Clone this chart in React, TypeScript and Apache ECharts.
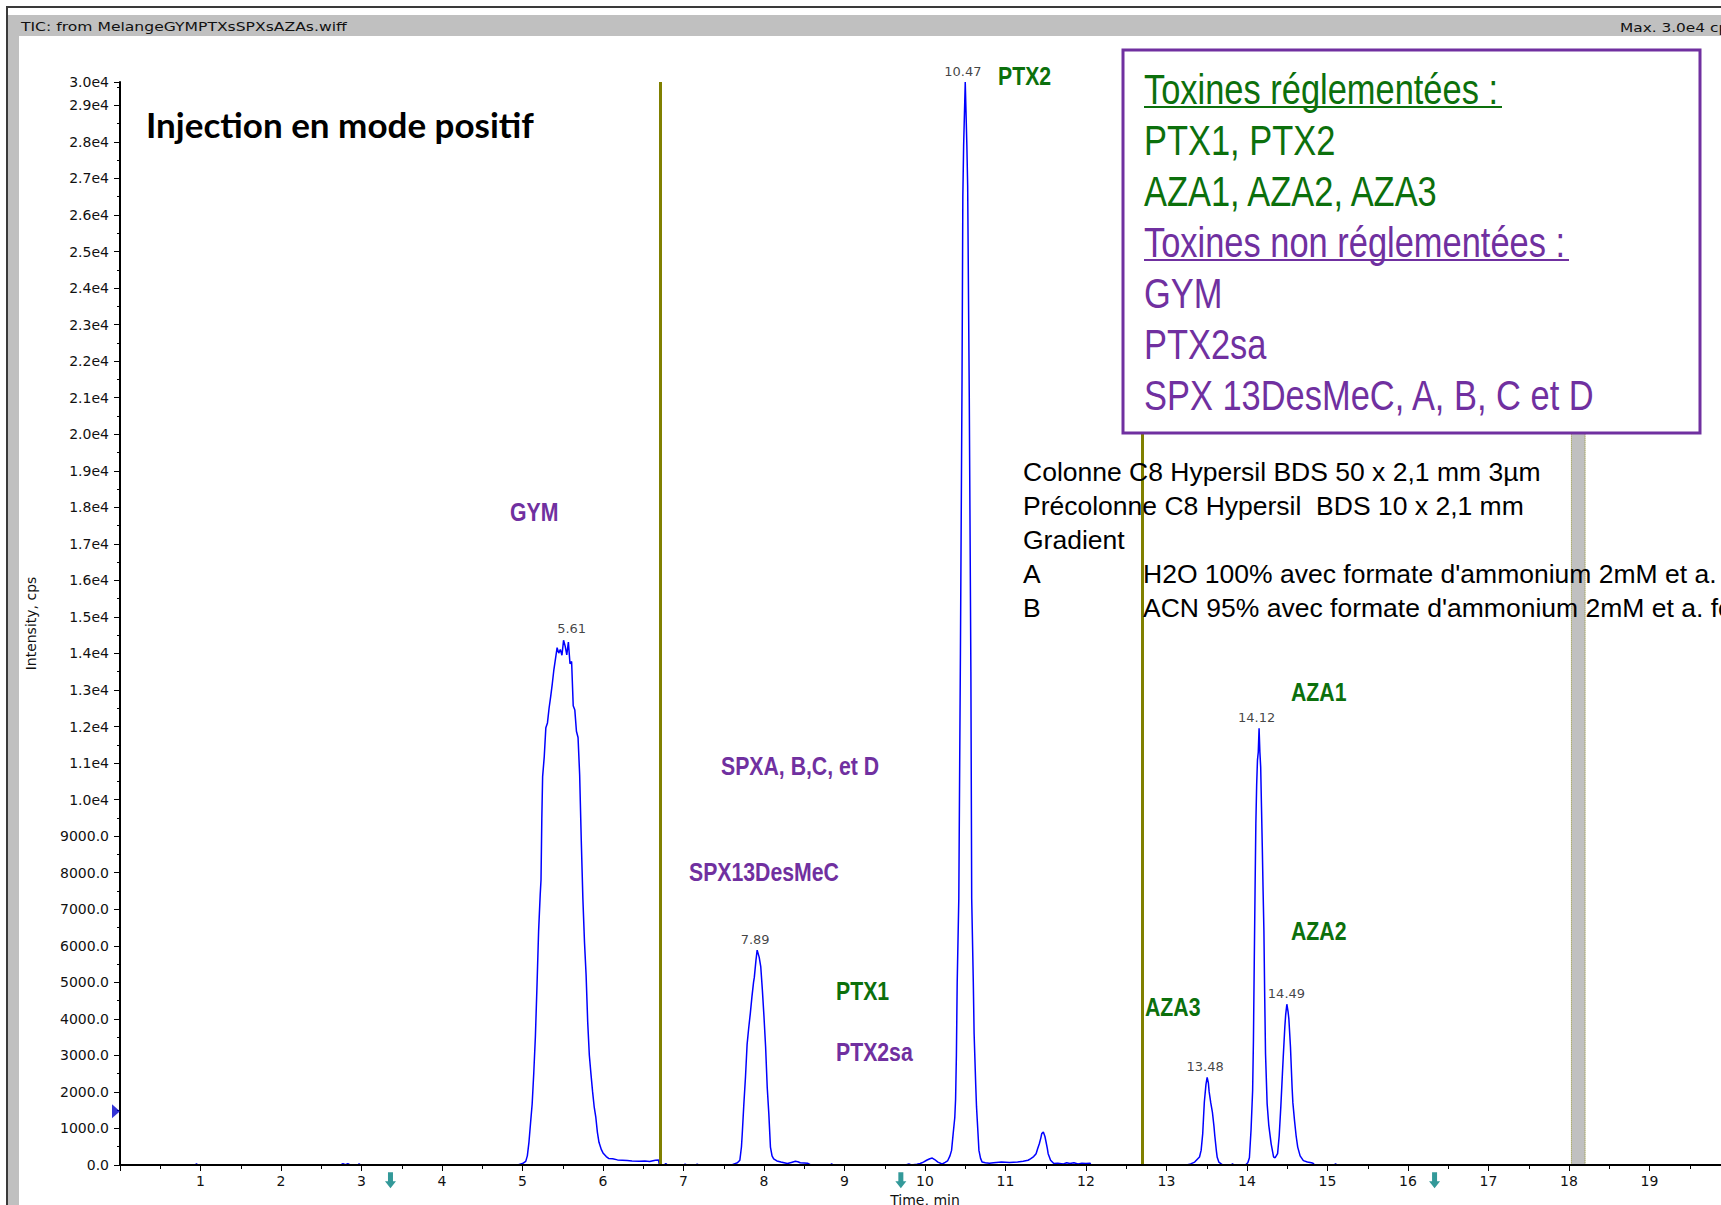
import React, { useEffect, useRef } from "react";
import * as echarts from "echarts";

// ---- Chromatogram trace (time in min, intensity in cps) ----
const baselineEarly: [number, number][] = [
  [0, 0], [0.93, 0], [0.95, 30], [0.97, 0], [2.74, 0], [2.77, 35], [2.8, 10], [2.83, 35], [2.86, 0],
  [2.95, 0], [2.97, 30], [2.99, 0], [4.9, 0],
];
const gymPeak: [number, number][] = [
  [4.94, 0], [5.0, 40], [5.04, 100], [5.06, 250], [5.08, 620], [5.1, 1150], [5.12, 1670], [5.14, 2520],
  [5.16, 3510], [5.18, 4900], [5.2, 6400], [5.22, 7400], [5.23, 7800], [5.24, 9480], [5.25, 10630],
  [5.27, 11170], [5.29, 11970], [5.31, 12100], [5.33, 12500], [5.35, 12820], [5.37, 13170], [5.39, 13560],
  [5.41, 13860], [5.43, 14160], [5.45, 14010], [5.47, 14110], [5.49, 13950], [5.51, 14360], [5.53, 14200],
  [5.55, 13960], [5.57, 14310], [5.59, 13720], [5.61, 13780], [5.63, 12570], [5.65, 12450], [5.67, 11870],
  [5.69, 11700], [5.71, 10680], [5.73, 8890], [5.75, 7290], [5.77, 6100], [5.79, 5200], [5.81, 3910],
  [5.83, 3010], [5.85, 2500], [5.87, 2020], [5.89, 1600], [5.91, 1320], [5.93, 900], [5.95, 620],
  [5.98, 420], [6.0, 330], [6.04, 230], [6.07, 180], [6.12, 170], [6.18, 140], [6.24, 130], [6.3, 120],
  [6.36, 110], [6.45, 100], [6.52, 110], [6.58, 95], [6.65, 130], [6.69, 140], [6.7, 0],
];
const noiseMid: [number, number][] = [
  [6.76, 0], [6.78, 40], [6.8, 0], [7.0, 0], [7.02, 25], [7.04, 0], [7.15, 0], [7.17, 20], [7.19, 0], [7.6, 0],
];
const spxPeak: [number, number][] = [
  [7.63, 30], [7.67, 60], [7.7, 130], [7.72, 500], [7.73, 860], [7.75, 1680], [7.77, 2410], [7.79, 3300],
  [7.81, 3750], [7.83, 4150], [7.85, 4600], [7.87, 5000], [7.88, 5140], [7.9, 5600], [7.915, 5880],
  [7.94, 5690], [7.96, 5420], [7.98, 4780], [8.0, 4050], [8.02, 3230], [8.04, 2130], [8.06, 1400],
  [8.08, 490], [8.1, 250], [8.12, 170], [8.16, 110], [8.21, 80], [8.25, 60], [8.29, 40], [8.34, 70],
  [8.39, 100], [8.42, 90], [8.45, 60], [8.5, 55], [8.54, 50], [8.58, 0], [8.82, 0], [8.84, 30], [8.86, 0],
  [9.76, 0], [9.8, 30], [9.83, 0],
];
const ptx2Peak: [number, number][] = [
  [9.9, 20], [9.94, 40], [9.98, 80], [10.02, 130], [10.06, 170], [10.09, 190], [10.12, 150], [10.16, 80],
  [10.2, 40], [10.22, 35], [10.25, 70], [10.28, 110], [10.31, 250], [10.33, 400], [10.35, 860],
  [10.37, 1300], [10.38, 1800], [10.39, 3000], [10.4, 5000], [10.42, 7300], [10.44, 14000], [10.46, 21500],
  [10.47, 26500], [10.48, 27900], [10.5, 29640], [10.52, 27900], [10.53, 26800], [10.55, 21000],
  [10.57, 13500], [10.58, 7300], [10.6, 5000], [10.61, 3600], [10.63, 2200], [10.64, 1590], [10.66, 800],
  [10.67, 400], [10.69, 180], [10.71, 80], [10.75, 60], [10.8, 50], [10.85, 60], [10.95, 80], [11.05, 70],
  [11.15, 80], [11.22, 100], [11.28, 130], [11.31, 170], [11.35, 230], [11.38, 310], [11.4, 450],
  [11.42, 580], [11.44, 750], [11.45, 860], [11.47, 900], [11.49, 780], [11.5, 670], [11.52, 450],
  [11.53, 310], [11.56, 130], [11.6, 40], [11.65, 50], [11.72, 30], [11.76, 60], [11.8, 40], [11.85, 60],
  [11.9, 30], [11.95, 50], [12.0, 40], [12.05, 50], [12.06, 0],
];
const azaPeaks: [number, number][] = [
  [13.25, 0], [13.3, 30], [13.35, 80], [13.38, 150], [13.41, 220], [13.43, 400], [13.45, 860], [13.46, 1300],
  [13.47, 1720], [13.49, 2200], [13.505, 2400], [13.52, 2250], [13.53, 2000], [13.55, 1700], [13.57, 1450],
  [13.59, 1050], [13.6, 800], [13.62, 380], [13.63, 210], [13.65, 80], [13.68, 30], [13.7, 0], [13.8, 0],
  [13.82, 30], [13.84, 0], [13.98, 0], [14.01, 60], [14.03, 200], [14.05, 950], [14.07, 2040], [14.08, 3410],
  [14.09, 5510], [14.1, 7500], [14.11, 9340], [14.12, 10400], [14.13, 11080], [14.14, 11300], [14.15, 11950],
  [14.16, 11300], [14.17, 10890], [14.18, 9800], [14.19, 8700], [14.2, 7500], [14.21, 6420], [14.22, 4600],
  [14.23, 3050], [14.25, 1680], [14.27, 1100], [14.3, 580], [14.33, 220], [14.35, 200], [14.38, 310],
  [14.4, 800], [14.42, 1590], [14.44, 2500], [14.45, 2950], [14.47, 3780], [14.48, 4100], [14.495, 4400],
  [14.51, 4200], [14.52, 4000], [14.54, 3230], [14.56, 2130], [14.57, 1700], [14.59, 1220], [14.61, 800],
  [14.63, 490], [14.66, 250], [14.7, 120], [14.75, 80], [14.8, 60], [14.82, 50], [14.84, 0], [15.08, 0],
  [15.1, 30], [15.12, 0], [20, 0],
];

// ---- Peak retention-time labels ----
const peakTimes = [5.61, 7.89, 10.47, 13.48, 14.12, 14.49];
const peakHeights = [14380, 5880, 29640, 2400, 11950, 4400];

// ---- Other markers ----
const cutLines = [6.71, 12.7];
const greyBand = [18.03, 18.2];
const arrowTimes = [3.36, 9.7, 16.33];
const arrowLevel = -420;
const thresholdLevel = 1470;

const xMin = 0;
const xMax = 20;
const yMax = 29640;

// ---- Texts ----
const windowTitle = "TIC: from MelangeGYMPTXsSPXsAZAs.wiff";
const maxText = "Max. 3.0e4 cps";
const injectionTitle = "Injection en mode positif";
const legendLines = [
  { text: "Toxines réglementées :", color: "#0c700c", underline: 358 },
  { text: "PTX1, PTX2", color: "#0c700c", underline: 0 },
  { text: "AZA1, AZA2, AZA3", color: "#0c700c", underline: 0 },
  { text: "Toxines non réglementées :", color: "#7030A0", underline: 425 },
  { text: "GYM", color: "#7030A0", underline: 0 },
  { text: "PTX2sa", color: "#7030A0", underline: 0 },
  { text: "SPX 13DesMeC, A, B, C et D", color: "#7030A0", underline: 0 },
];
const annotations = [
  { text: "GYM", color: "#7030A0", x: 510, y: 512 },
  { text: "SPXA, B,C, et D", color: "#7030A0", x: 721, y: 766 },
  { text: "SPX13DesMeC", color: "#7030A0", x: 689, y: 872 },
  { text: "PTX1", color: "#0c700c", x: 836, y: 991 },
  { text: "PTX2sa", color: "#7030A0", x: 836, y: 1052 },
  { text: "PTX2", color: "#0c700c", x: 998, y: 76 },
  { text: "AZA1", color: "#0c700c", x: 1291, y: 692 },
  { text: "AZA2", color: "#0c700c", x: 1291, y: 931 },
  { text: "AZA3", color: "#0c700c", x: 1145, y: 1007 },
];
const methodLines = [
  ["Colonne C8 Hypersil BDS 50 x 2,1 mm 3µm", ""],
  ["Précolonne C8 Hypersil  BDS 10 x 2,1 mm", ""],
  ["Gradient", ""],
  ["A", "H2O 100% avec formate d'ammonium 2mM et a."],
  ["B", "ACN 95% avec formate d'ammonium 2mM et a. fo"],
];

const trace = [...baselineEarly, ...gymPeak, ...noiseMid, ...spxPeak, ...ptx2Peak, ...azaPeaks];

function txt(text: string, x: number, y: number, o: any) {
  return {
    type: "text",
    x,
    y,
    z: 100,
    scaleX: o.sx ?? 1,
    silent: true,
    style: {
      text,
      fill: o.color ?? "#000",
      fontSize: o.size,
      fontFamily: o.family ?? "Liberation Sans",
      fontWeight: o.weight ?? "normal",
      align: "left",
      verticalAlign: "middle",
      textAlign: "left",
      textVerticalAlign: "middle",
    },
  };
}

function buildGraphic() {
  const g: any[] = [];
  // window frame
  g.push({ type: "rect", z: 95, silent: true, shape: { x: 8, y: 15, width: 1713, height: 21 }, style: { fill: "#c0c0c0" } });
  g.push({ type: "rect", z: 95, silent: true, shape: { x: 8, y: 36, width: 11, height: 1169 }, style: { fill: "#c0c0c0" } });
  g.push({ type: "line", z: 96, silent: true, shape: { x1: 6, y1: 7, x2: 1721, y2: 7 }, style: { stroke: "#3a3a3a", lineWidth: 2 } });
  g.push({ type: "line", z: 96, silent: true, shape: { x1: 7, y1: 6, x2: 7, y2: 1205 }, style: { stroke: "#3a3a3a", lineWidth: 2 } });
  g.push(txt(windowTitle, 21, 27, { size: 12, family: "DejaVu Sans", sx: 1.3, color: "#111" }));
  g.push(txt(maxText, 1620, 28, { size: 12, family: "DejaVu Sans", sx: 1.28, color: "#111" }));

  g.push(txt(injectionTitle, 146, 124, { size: 35, family: "Lato", weight: "bold", color: "#000" }));

  // legend box
  g.push({ type: "rect", z: 90, silent: true, shape: { x: 1123, y: 50, width: 577, height: 383 }, style: { fill: "#fff", stroke: "#7030A0", lineWidth: 3 } });
  const lx = 1144;
  const ly0 = 89;
  const lstep = 51;
  legendLines.forEach((l, i) => {
    const y = ly0 + i * lstep;
    g.push(txt(l.text, lx, y, { size: 42, sx: 0.82, color: l.color }));
    if (l.underline) {
      g.push({ type: "line", z: 100, silent: true, shape: { x1: lx, y1: y + 18, x2: lx + l.underline, y2: y + 18 }, style: { stroke: l.color, lineWidth: 2 } });
    }
  });

  // annotations
  annotations.forEach((a) => g.push(txt(a.text, a.x, a.y, { size: 25, weight: "bold", sx: 0.85, color: a.color })));

  // method text
  methodLines.forEach((m, i) => {
    const y = 472 + i * 34;
    g.push(txt(m[0], 1023, y, { size: 26.5, color: "#000" }));
    if (m[1]) g.push(txt(m[1], 1143, y, { size: 26.5, color: "#000" }));
  });
  return g;
}

const axisFont = { fontFamily: "DejaVu Sans", fontSize: 14, color: "#111" };

const option: any = {
  animation: false,
  backgroundColor: "#ffffff",
  grid: { left: 120, top: 82, width: 1610, bottom: 40, containLabel: false, outerBoundsMode: "none" },
  xAxis: {
    type: "value",
    min: xMin,
    max: xMax,
    interval: 1,
    z: 10,
    axisLine: { show: true, onZero: false, lineStyle: { color: "#000", width: 2 } },
    axisTick: { show: true, length: 6, lineStyle: { color: "#000", width: 1 } },
    minorTick: { show: true, splitNumber: 2, length: 4, lineStyle: { color: "#000", width: 1 } },
    splitLine: { show: false },
    minorSplitLine: { show: false },
    axisLabel: {
      ...axisFont,
      margin: 9,
      showMinLabel: false,
      showMaxLabel: false,
      formatter: (v: number) => (v === xMin || v === xMax ? "" : String(v)),
    },
    name: "Time, min",
    nameLocation: "middle",
    nameGap: 22,
    nameTextStyle: { fontFamily: "DejaVu Sans", fontSize: 14, color: "#111" },
  },
  yAxis: {
    type: "value",
    min: 0,
    max: yMax,
    interval: 1000,
    z: 10,
    axisLine: { show: true, onZero: false, lineStyle: { color: "#000", width: 2 } },
    axisTick: { show: true, length: 6, lineStyle: { color: "#000", width: 1 } },
    minorTick: { show: true, splitNumber: 2, length: 3, lineStyle: { color: "#000", width: 1 } },
    splitLine: { show: false },
    minorSplitLine: { show: false },
    axisLabel: {
      ...axisFont,
      margin: 11,
      formatter: (v: number) => (v >= 10000 ? (v / 10000).toFixed(1) + "e4" : v.toFixed(1)),
    },
    name: "Intensity, cps",
    nameLocation: "middle",
    nameGap: 82,
    nameTextStyle: { fontFamily: "DejaVu Sans", fontSize: 14, color: "#111" },
  },
  series: [
    {
      type: "line",
      data: trace,
      symbol: "none",
      showSymbol: false,
      z: 3,
      lineStyle: { color: "#0000ff", width: 1.5 },
      markLine: {
        silent: true,
        symbol: ["none", "none"],
        label: { show: false },
        lineStyle: { color: "#808000", width: 3, type: "solid" },
        data: cutLines.map((x) => ({ xAxis: x })),
      },
      markArea: {
        silent: true,
        itemStyle: { color: "#c0c0c0", borderColor: "#8c8c2a", borderWidth: 1, borderType: "dotted" },
        data: [[{ xAxis: greyBand[0] }, { xAxis: greyBand[1] }]],
      },
    },
    {
      type: "scatter",
      data: peakTimes.map((t, i) => [t, peakHeights[i]]),
      symbol: "circle",
      symbolSize: 1,
      z: 4,
      itemStyle: { color: "rgba(0,0,0,0)" },
      label: {
        show: true,
        position: "top",
        distance: 4,
        fontFamily: "DejaVu Sans",
        fontSize: 13,
        color: "#111",
        formatter: (p: any) => peakTimes[p.dataIndex].toFixed(2),
      },
    },
    {
      type: "scatter",
      clip: false,
      data: arrowTimes.map((t) => [t, arrowLevel]),
      symbol: "path://M3,0 L8,0 L8,9 L11,9 L5.5,16 L0,9 L3,9 Z",
      symbolSize: [11, 16],
      z: 20,
      itemStyle: { color: "#008080" },
    },
    {
      type: "scatter",
      clip: false,
      data: [[-0.05, thresholdLevel]],
      symbol: "path://M0,0 L10,7 L0,14 Z",
      symbolSize: [8, 14],
      z: 20,
      itemStyle: { color: "#0000cc" },
    },
  ],
  graphic: buildGraphic(),
};

export default function App() {
  const ref = useRef<HTMLDivElement>(null);
  useEffect(() => {
    document.body.style.margin = "0";
    const chart = echarts.init(ref.current!, null, { renderer: "svg", width: 1721, height: 1205 });
    chart.setOption(option);
    return () => chart.dispose();
  }, []);
  return (
    <div
      ref={ref}
      style={{ width: 1721, height: 1205, position: "absolute", left: 0, top: 0, background: "#fff" }}
    />
  );
}
